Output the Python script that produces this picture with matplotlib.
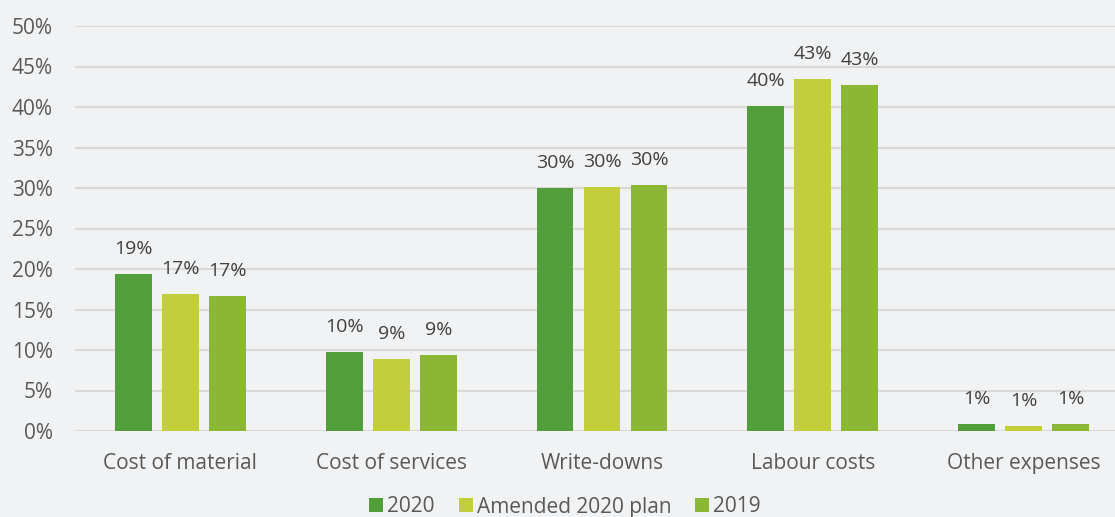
import numpy as np
import matplotlib
matplotlib.use("Agg")
import matplotlib.pyplot as plt

CATEGORIES = ["Cost of material", "Cost of services", "Write-downs", "Labour costs", "Other expenses"]
SERIES = ["2020", "Amended 2020 plan", "2019"]
VALUES_2020 = [19.4, 9.7, 30.0, 40.1, 0.9]
VALUES_PLAN = [16.9, 8.9, 30.1, 43.4, 0.6]
VALUES_2019 = [16.7, 9.4, 30.4, 42.7, 0.9]
LABELS_2020 = ["19%", "10%", "30%", "40%", "1%"]
LABELS_PLAN = ["17%", "9%", "30%", "43%", "1%"]
LABELS_2019 = ["17%", "9%", "30%", "43%", "1%"]
COLOURS = ["#529E3A", "#C3CF3A", "#8BB734"]

BG = "#F0F2F4"
plt.rcParams['font.family'] = ['Open Sans', 'DejaVu Sans']

fig = plt.figure(figsize=(11.15, 5.17), dpi=100, facecolor=BG)
# plot area runs past the right edge, as in the original
ax = fig.add_axes([75 / 1115, 1 - 431 / 517, 1054 / 1115, 405 / 517], facecolor=BG)

x = np.arange(len(CATEGORIES))
width = 0.175
step = 0.223
series_vals = [VALUES_2020, VALUES_PLAN, VALUES_2019]
series_labels = [LABELS_2020, LABELS_PLAN, LABELS_2019]
for i, (vals, labs, c, name) in enumerate(zip(series_vals, series_labels, COLOURS, SERIES)):
    pos = x + (i - 1) * step
    ax.bar(pos, vals, width, color=c, label=name, zorder=3)
    for p, v, l in zip(pos, vals, labs):
        ax.annotate(l, (p, v), xytext=(0, 11.5), textcoords="offset points",
                    ha="center", va="bottom", fontsize=14, color="#404040")

ax.set_xlim(-0.5, len(CATEGORIES) - 0.5)
ax.set_ylim(0, 50)
ax.set_yticks(np.arange(0, 51, 5))
ax.set_yticklabels(["{}%".format(t) for t in range(0, 51, 5)])
ax.set_xticks(x)
ax.set_xticklabels(CATEGORIES)
ax.yaxis.grid(True, color="#D9D9D9", linewidth=1.5, zorder=0)
ax.tick_params(axis="both", length=0, labelsize=15, labelcolor="#595959")
ax.tick_params(axis="y", pad=16)
ax.tick_params(axis="x", pad=16)
for s in ax.spines.values():
    s.set_visible(False)

fig.legend(loc="center", bbox_to_anchor=(565 / 1115, 1 - 507 / 517), ncol=3,
           frameon=False, fontsize=15, labelcolor="#595959",
           handlelength=0.67, handleheight=0.67, handletextpad=0.2,
           columnspacing=1.15, borderaxespad=0)

fig.savefig("out.png", dpi=100, facecolor=BG)
